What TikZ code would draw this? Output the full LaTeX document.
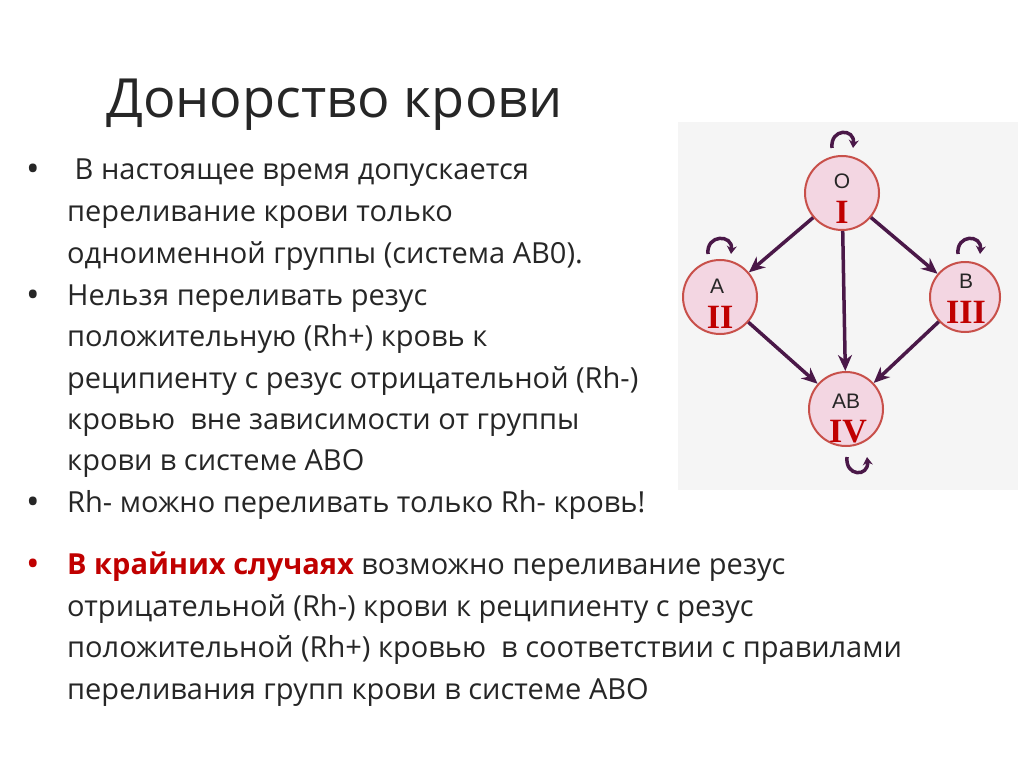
\documentclass[tikz,border=0pt]{standalone}
\usepackage{fontspec}
\setmainfont{Open Sans}
\newfontfamily\romfont{Liberation Serif}
\newfontfamily\lblfont{Liberation Sans}
\usetikzlibrary{arrows.meta}
\definecolor{arr}{HTML}{4A1848}
\definecolor{txt}{HTML}{262626}
\definecolor{redb}{HTML}{C00000}
\definecolor{ring}{HTML}{C8504A}
\definecolor{cfill}{HTML}{F3D6E2}
\begin{document}
\begin{tikzpicture}[x=1pt,y=-1pt,
  line/.style={anchor=base west,inner sep=0pt,font=\fontsize{29}{32}\selectfont,text=txt},
  bul/.style={anchor=base,inner sep=0pt,font=\fontsize{36}{36}\selectfont,text=txt},
  grp/.style={circle,draw=ring,line width=2pt,fill=cfill,minimum size=74pt,inner sep=0pt},
  let/.style={inner sep=0pt,font=\lblfont\fontsize{21}{22}\selectfont,text=black!85},
  rom/.style={inner sep=0pt,font=\romfont\bfseries\fontsize{34}{34}\selectfont,text=redb},
  link/.style={draw=arr,line width=3.5pt,-{Stealth[length=16pt,width=14pt]}},
  loop/.style={draw=arr,line width=3.5pt,-{Stealth[length=8pt,width=10pt]}}]
\useasboundingbox (0,0) rectangle (1024,767);
\fill[white] (0,0) rectangle (1024,767);
\fill[black!4] (678,122) rectangle (1018,490);
\node[anchor=base west,inner sep=0pt,font=\fontsize{54}{58}\selectfont,text=txt] (title) at (106,118) {Донорство крови};
\node[bul] (b1) at (33,182) {•};
\node[line] (l1) at (67,180) {\ В настоящее время допускается};
\node[line] (l2) at (67,222) {переливание крови только};
\node[line] (l3) at (67,263) {одноименной группы (система АВ0).};
\node[bul] (b2) at (33,307) {•};
\node[line] (l4) at (67,305) {Нельзя переливать резус};
\node[line] (l5) at (67,346) {положительную (Rh+) кровь к};
\node[line] (l6) at (67,388) {реципиенту с резус отрицательной (Rh-)};
\node[line] (l7) at (67,429) {кровью\ \ вне зависимости от группы};
\node[line] (l8) at (67,470) {крови в системе АВО};
\node[bul] (b3) at (33,514) {•};
\node[line] (l9) at (67,512) {Rh- можно переливать только Rh- кровь!};
\node[bul,text=redb] (b4) at (33,576) {•};
\node[line] (l10) at (67,574) {\textcolor{redb}{\textbf{В крайних случаях}} возможно переливание резус};
\node[line] (l11) at (67,616) {отрицательной (Rh-) крови к реципиенту с резус};
\node[line] (l12) at (67,657) {положительной (Rh+) кровью\ \ в соответствии с правилами};
\node[line] (l13) at (67,699) {переливания групп крови в системе АВО};
% diagram
\node[grp] (o) at (842,193) {};
\node[grp] (a) at (720,297) {};
\node[grp,minimum size=70pt] (b) at (965,297) {};
\node[grp] (ab) at (846,409) {};
\node[let] (ot) at (842,181) {O};  \node[rom] (or) at (842,212) {I};
\node[let] (at) at (717,286) {A};  \node[rom] (ar) at (720,317) {II};
\node[let] (bt) at (966,281) {B};  \node[rom] (br) at (966,312) {III};
\node[let] (abt) at (846,401) {AB}; \node[rom] (abr) at (848,432) {IV};
\draw[link] (o) -- (a);
\draw[link] (o) -- (b);
\draw[link] (o) -- (ab);
\draw[link] (a) -- (ab);
\draw[link] (b) -- (ab);
\coordinate (o1) at (832,148); \coordinate (o2) at (853,148);
\draw[loop] (o1) .. controls (830,128) and (855,128) .. (o2);
\coordinate (a1) at (708,254); \coordinate (a2) at (731,254);
\draw[loop] (a1) .. controls (706,234) and (733,234) .. (a2);
\coordinate (b1c) at (958,254); \coordinate (b2c) at (980,254);
\draw[loop] (b1c) .. controls (956,234) and (982,234) .. (b2c);
\coordinate (ab1) at (847,457); \coordinate (ab2) at (867,457);
\draw[loop] (ab1) .. controls (845,477) and (869,477) .. (ab2);
\end{tikzpicture}
\end{document}
